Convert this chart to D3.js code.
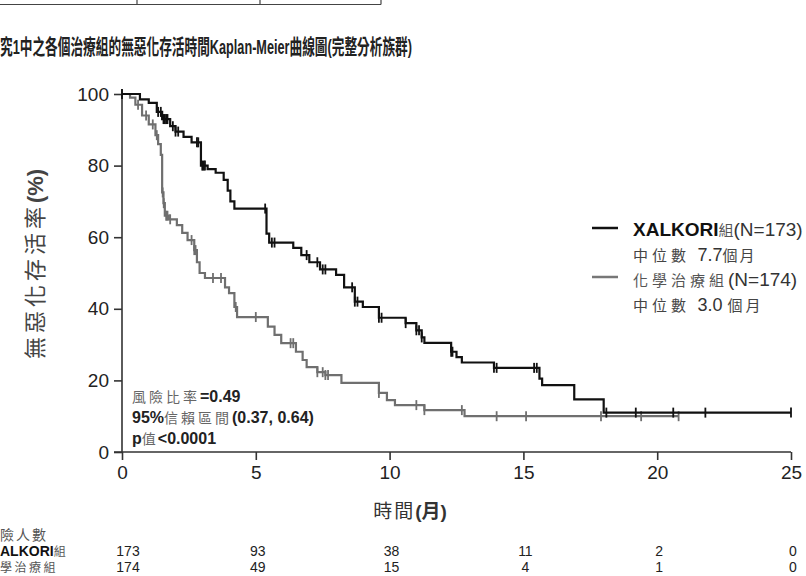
<!DOCTYPE html>
<html><head><meta charset="utf-8">
<script src="https://cdn.jsdelivr.net/npm/d3@7"></script>
<style>
body{margin:0;background:#fff;}
svg{display:block;}
text{font-family:"Liberation Sans",Arial,"Noto Sans CJK TC",sans-serif;}
.cjk{font-family:"Noto Sans CJK TC",sans-serif;}
</style></head><body>
<svg id="c" width="806" height="576"></svg>
<script>
// ---- data ----
const xTicks = [0, 5, 10, 15, 20, 25];
const yTicks = [0, 20, 40, 60, 80, 100];
// XALKORI step curve (time in months, survival %)
const xalTimes = [0, 0.67, 1.0, 1.3, 1.5, 1.8, 2.0, 2.3, 2.6, 2.95, 3.2, 3.5, 3.8, 3.95, 4.05, 4.2, 5.4, 5.5, 6.4, 6.7, 7.0, 7.4, 8.0, 8.3, 8.7, 9.0, 9.6, 10.6, 11.0, 11.2, 11.3, 12.3, 12.5, 12.7, 13.9, 15.6, 15.7, 16.9, 18.0];
const xalSurv  = [100, 98.5, 97.5, 95, 93, 91, 89.5, 88, 86.5, 80, 79, 78, 76, 73, 70, 68, 61, 58.5, 57, 55, 53, 51, 49.5, 46, 42, 40.5, 37.5, 36, 34, 32, 30.5, 28, 26.5, 25, 23.5, 20.5, 18.7, 14.7, 11];
const xalEnd = 25;
const xalCensor = [0, 1.35, 1.45, 1.55, 1.6, 1.65, 1.7, 1.9, 2.0, 2.1, 2.8, 2.85, 3.0, 3.05, 3.1, 5.35, 5.6, 5.7, 6.9, 7.3, 7.5, 7.6, 8.6, 8.7, 8.8, 9.6, 9.7, 10.6, 11.0, 11.1, 11.2, 12.3, 12.35, 13.9, 14.0, 15.4, 15.5, 18.1, 19.2, 20.6, 21.8, 25];
// 化學治療組 step curve
const chemoTimes = [0, 0.3, 0.5, 0.75, 1.0, 1.25, 1.35, 1.45, 1.5, 1.55, 1.6, 1.75, 2.05, 2.25, 2.45, 2.7, 2.8, 2.9, 3.1, 3.85, 4.0, 4.2, 4.3, 5.45, 5.7, 5.95, 6.5, 6.75, 6.9, 7.3, 7.6, 8.2, 9.6, 9.9, 10.2, 11.3, 12.8];
const chemoSurv  = [100, 99, 97, 94, 91.5, 88.5, 86, 83, 72.5, 69.5, 66, 65, 63.4, 61.2, 59.2, 56.4, 53, 50, 48.6, 46, 44.4, 40.5, 37.7, 35, 32.7, 30.4, 28, 25.7, 23.7, 22.3, 21.5, 19.3, 16.5, 14.5, 13.1, 11.7, 10];
const chemoEnd = 20.8;
const chemoCensor = [0, 0.6, 0.9, 1.15, 1.3, 1.52, 1.56, 1.65, 1.7, 1.8, 2.6, 2.7, 2.75, 3.4, 3.7, 4.25, 5.0, 6.3, 6.4, 7.3, 7.5, 7.6, 7.7, 9.6, 11.0, 11.3, 12.7, 14.0, 15.1, 17.9, 19.4, 20.8];
// number at risk
const riskXal = [173, 93, 38, 11, 2, 0];
const riskChemo = [174, 49, 15, 4, 1, 0];

// ---- drawing ----
const svg = d3.select("#c");
const x = d3.scaleLinear().domain([0, 25]).range([122, 791]);
const y = d3.scaleLinear().domain([0, 100]).range([452, 94]);

// top table fragment
const tbl = svg.append("g").attr("stroke", "#444").attr("stroke-width", 1.2);
tbl.append("line").attr("x1", 0).attr("x2", 381).attr("y1", 4.5).attr("y2", 4.5);
[137, 260, 381].forEach(v => tbl.append("line").attr("x1", v).attr("x2", v).attr("y1", 0).attr("y2", 4.5));

// title
svg.append("text").attr("x", 0).attr("y", 54).attr("font-size", 21).attr("font-weight", "bold")
  .attr("fill", "#222").attr("textLength", 412).attr("lengthAdjust", "spacingAndGlyphs")
  .text("究1中之各個治療組的無惡化存活時間Kaplan-Meier曲線圖(完整分析族群)");

// axes
const yAxis = svg.append("g").attr("transform", "translate(122,0)")
  .call(d3.axisLeft(y).tickValues(yTicks).tickSize(8).tickPadding(5));
const xAxis = svg.append("g").attr("transform", "translate(0,452)")
  .call(d3.axisBottom(x).tickValues(xTicks).tickSize(8).tickPadding(6));
[yAxis, xAxis].forEach(a => {
  a.select(".domain").attr("stroke", "#333").attr("stroke-width", 1.6);
  a.selectAll(".tick line").attr("stroke", "#333").attr("stroke-width", 1.6);
  a.selectAll(".tick text").attr("font-size", 19).attr("fill", "#222")
    .attr("font-family", "'Liberation Sans', Arial, sans-serif");
});
yAxis.select(".domain").attr("d", "M0,94V452");
xAxis.select(".domain").attr("d", "M114,0H791");

// axis titles
svg.append("text").attr("transform", "translate(43,264) rotate(-90)").attr("text-anchor", "middle")
  .attr("font-size", 22).attr("fill", "#444").attr("letter-spacing", 4)
  .call(t => {
    t.append("tspan").attr("class", "cjk").attr("font-weight", 400).text("無惡化存活率");
    t.append("tspan").attr("font-weight", "bold").attr("letter-spacing", 0).text("(%)");
  });
svg.append("text").attr("x", 410).attr("y", 518).attr("text-anchor", "middle").attr("font-size", 19).attr("fill", "#333")
  .call(t => {
    t.append("tspan").attr("class", "cjk").attr("font-weight", 400).attr("letter-spacing", 2).text("時間");
    t.append("tspan").attr("font-weight", "bold").text("(月)");
  });

// curves
function stepPoints(times, surv, end) {
  const pts = times.map((t, i) => [t, surv[i]]);
  pts.push([end, surv[surv.length - 1]]);
  return pts;
}
function survAt(times, surv, t) {
  const i = d3.bisectRight(times, t) - 1;
  return surv[Math.max(0, i)];
}
const line = d3.line().x(d => x(d[0])).y(d => y(d[1])).curve(d3.curveStepAfter);
const groups = [
  {times: chemoTimes, surv: chemoSurv, end: chemoEnd, cens: chemoCensor, color: "#6f6f6f"},
  {times: xalTimes, surv: xalSurv, end: xalEnd, cens: xalCensor, color: "#111"}
];
groups.forEach(g => {
  svg.append("path").attr("d", line(stepPoints(g.times, g.surv, g.end)))
    .attr("fill", "none").attr("stroke", g.color).attr("stroke-width", 2.2);
  svg.append("g").selectAll("line").data(g.cens).join("line")
    .attr("x1", d => x(d)).attr("x2", d => x(d))
    .attr("y1", d => y(survAt(g.times, g.surv, d)) - 5)
    .attr("y2", d => y(survAt(g.times, g.surv, d)) + 5)
    .attr("stroke", g.color).attr("stroke-width", 1.8);
});

// legend
const lg = svg.append("g");
lg.append("line").attr("x1", 592).attr("x2", 618).attr("y1", 228).attr("y2", 228).attr("stroke", "#111").attr("stroke-width", 2.5);
lg.append("line").attr("x1", 592).attr("x2", 618).attr("y1", 277).attr("y2", 277).attr("stroke", "#777").attr("stroke-width", 2.5);
lg.append("text").attr("x", 633).attr("y", 236).attr("font-size", 19).attr("fill", "#111").call(t => {
  t.append("tspan").attr("font-weight", "bold").text("XALKORI");
  t.append("tspan").attr("class", "cjk").attr("font-size", 15).attr("fill", "#555").text("組");
  t.append("tspan").attr("fill", "#333").text("(N=173)");
});
lg.append("text").attr("x", 633).attr("y", 261).attr("font-size", 17).attr("fill", "#444").call(t => {
  t.append("tspan").attr("class", "cjk").attr("font-size", 15).attr("letter-spacing", 4).text("中位數 ");
  t.append("tspan").attr("font-size", 18).attr("fill", "#333").text("7.7");
  t.append("tspan").attr("class", "cjk").attr("font-size", 15).attr("letter-spacing", 2).text("個月");
});
lg.append("text").attr("x", 633).attr("y", 286).attr("font-size", 19).attr("fill", "#333").call(t => {
  t.append("tspan").attr("class", "cjk").attr("font-size", 15).attr("fill", "#555").attr("letter-spacing", 4).text("化學治療組");
  t.append("tspan").text("(N=174)");
});
lg.append("text").attr("x", 633).attr("y", 311).attr("font-size", 17).attr("fill", "#444").call(t => {
  t.append("tspan").attr("class", "cjk").attr("font-size", 15).attr("letter-spacing", 4).text("中位數 ");
  t.append("tspan").attr("font-size", 18).attr("fill", "#333").text("3.0 ");
  t.append("tspan").attr("class", "cjk").attr("font-size", 15).attr("letter-spacing", 3).text("個月");
});

// stats
const st = svg.append("g").attr("font-size", 16).attr("fill", "#222");
st.append("text").attr("x", 132).attr("y", 402).call(t => {
  t.append("tspan").attr("class", "cjk").attr("font-size", 14).attr("fill", "#666").attr("letter-spacing", 3).text("風險比率");
  t.append("tspan").attr("font-weight", "bold").text("=0.49");
});
st.append("text").attr("x", 132).attr("y", 423).call(t => {
  t.append("tspan").attr("font-weight", "bold").text("95%");
  t.append("tspan").attr("class", "cjk").attr("font-size", 14).attr("fill", "#666").attr("letter-spacing", 3).text("信賴區間");
  t.append("tspan").attr("font-weight", "bold").text("(0.37, 0.64)");
});
st.append("text").attr("x", 132).attr("y", 444).call(t => {
  t.append("tspan").attr("font-weight", "bold").text("p");
  t.append("tspan").attr("class", "cjk").attr("font-size", 14).attr("fill", "#666").attr("letter-spacing", 2).text("值");
  t.append("tspan").attr("font-weight", "bold").text("<0.0001");
});

// risk table
svg.append("text").attr("x", 0).attr("y", 540).attr("class", "cjk").attr("font-size", 14).attr("fill", "#555")
  .attr("letter-spacing", 2).text("險人數");
svg.append("text").attr("x", 0).attr("y", 556).attr("font-size", 14).attr("fill", "#111").call(t => {
  t.append("tspan").attr("font-weight", "bold").text("ALKORI");
  t.append("tspan").attr("class", "cjk").attr("font-size", 12).attr("fill", "#555").text("組");
});
svg.append("text").attr("x", 0).attr("y", 572).attr("class", "cjk").attr("font-size", 12).attr("fill", "#555")
  .attr("letter-spacing", 2.5).text("學治療組");
[[riskXal, 556], [riskChemo, 572]].forEach(([arr, yy]) => {
  svg.append("g").selectAll("text").data(arr).join("text")
    .attr("x", (d, i) => x(xTicks[i]) + (i === 0 ? 6 : 2)).attr("y", yy)
    .attr("text-anchor", "middle").attr("font-size", 14).attr("fill", "#222").text(d => d);
});
</script>
</body></html>
